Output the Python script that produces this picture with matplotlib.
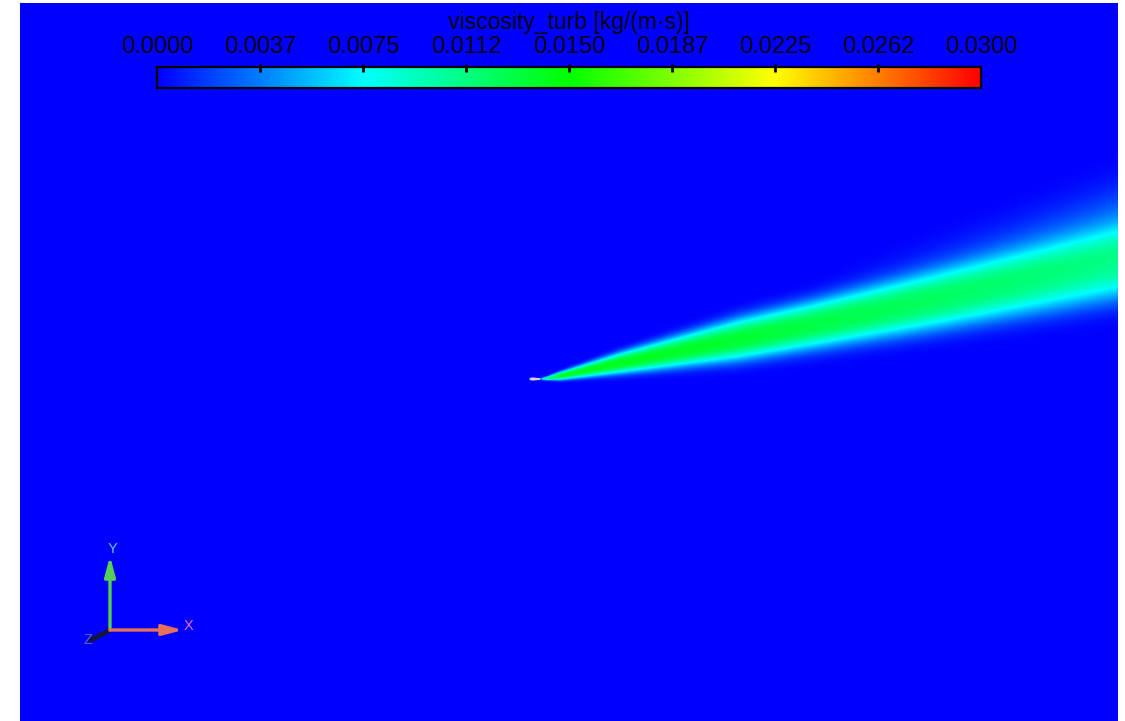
import numpy as np
import matplotlib
matplotlib.use("Agg")
import matplotlib.pyplot as plt
from matplotlib.colors import LinearSegmentedColormap

plt.rcParams["font.family"] = ["Liberation Sans", "DejaVu Sans"]

# wake stations read along the centreline (chord units, leading edge at x=0)
wake_x      = [1.0,   1.6,    3.0,    9.0,    21.0,   41.0,   58.8]
wake_yc     = [0.0,   0.05,   0.3,    1.6,    4.0,    7.9,    11.5]
wake_half   = [0.08,  0.15,   0.35,   0.9,    1.8,    2.5,    3.1]
wake_peak   = [0.004, 0.011,  0.0140, 0.0142, 0.0136, 0.0118, 0.0100]

# faint spreading layer on the upper side of the far wake
halo_x      = [28.0,  41.0,   58.8]
halo_amp    = [0.0,   0.0015, 0.0032]
halo_off    = [2.5,   3.2,    4.2]
halo_width  = [2.0,   2.6,    3.6]

# colour bar
vmin, vmax = 0.0, 0.03
cbar_ticks = [0.0, 0.00375, 0.0075, 0.01125, 0.015, 0.01875, 0.0225, 0.02625, 0.03]
cbar_labels = ["0.0000", "0.0037", "0.0075", "0.0112", "0.0150",
               "0.0187", "0.0225", "0.0262", "0.0300"]
field_name = "viscosity_turb [kg/(m\u00b7s)]"

# domain extents (chord units)
x_min, x_max = -51.0, 58.8
y_min, y_max = -34.2, 37.6

rainbow = LinearSegmentedColormap.from_list(
    "rainbow_bcgyr",
    [(0.0, (0, 0, 1)), (0.25, (0, 1, 1)), (0.5, (0, 1, 0)),
     (0.75, (1, 1, 0)), (1.0, (1, 0, 0))])

# build the nut field on a fine grid
xs = np.linspace(x_min, x_max, 2200)
ys = np.linspace(y_min, y_max, 1440)
X, Y = np.meshgrid(xs, ys)

yc = np.interp(xs, wake_x, wake_yc)
hw = np.interp(xs, wake_x, wake_half)
pk = np.interp(xs, wake_x, wake_peak, left=0.0)
eta = np.abs(Y - yc[None, :]) / hw[None, :]
nut = pk[None, :] * np.exp(-np.log(2) * eta ** 2.6)

ha = np.interp(xs, halo_x, halo_amp, left=0.0)
ho = np.interp(xs, halo_x, halo_off)
hwid = np.interp(xs, halo_x, halo_width)
nut += ha[None, :] * np.exp(-((Y - yc[None, :] - ho[None, :]) / hwid[None, :]) ** 2)

fig = plt.figure(figsize=(11.25, 7.21), dpi=100)
ax = fig.add_axes([20 / 1125, 0, 1098 / 1125, 718 / 721])
ax.imshow(nut, extent=[x_min, x_max, y_min, y_max], origin="lower",
          cmap=rainbow, vmin=vmin, vmax=vmax, aspect="auto",
          interpolation="bilinear")

# airfoil outline (symmetric 12% section)
t = np.linspace(0, np.pi, 60)
xc = 0.5 * (1 - np.cos(t))
yt = 5 * 0.12 * (0.2969 * np.sqrt(xc) - 0.126 * xc - 0.3516 * xc ** 2
                 + 0.2843 * xc ** 3 - 0.1015 * xc ** 4)
ax.fill(np.r_[xc, xc[::-1]], np.r_[yt, -yt[::-1]] * 1.6,
        color="#f0f0f0", ec="#d0d0e0", lw=0.8, zorder=3)

ax.set_xlim(x_min, x_max)
ax.set_ylim(y_min, y_max)
ax.set_axis_off()

# colour bar
cax = fig.add_axes([157 / 1125, 1 - 88 / 721, 824 / 1125, 21 / 721])
grad = np.linspace(vmin, vmax, 512)[None, :]
cax.imshow(grad, extent=[vmin, vmax, 0, 1], cmap=rainbow, vmin=vmin, vmax=vmax,
           aspect="auto")
cax.set_xlim(vmin, vmax)
cax.set_ylim(0, 1)
cax.set_xticks([])
cax.set_yticks([])
for s in cax.spines.values():
    s.set_linewidth(1.6)
    s.set_color("black")
for v in cbar_ticks[1:-1]:
    cax.plot([v, v], [1 + 3 / 21, 1 - 5 / 21], color="black", lw=2,
             clip_on=False, solid_capstyle="butt")
for v, lab in zip(cbar_ticks, cbar_labels):
    cax.text(v, 1 + 14 / 21, lab, ha="center", va="baseline",
             fontsize=17, color="#000010", clip_on=False)
cax.text(0.5, 1 + 38 / 21, field_name, transform=cax.transAxes,
         ha="center", va="baseline", fontsize=16.5, color="#000010")

# orientation triad, drawn in pixel space
tri = fig.add_axes([0, 0, 1, 1])
tri.set_xlim(0, 1125)
tri.set_ylim(721, 0)
tri.set_axis_off()
tri.patch.set_alpha(0)
o = (110, 630)
tri.plot([o[0], 91], [o[1], 640], color="#141440", lw=3.5, solid_capstyle="round")
tri.annotate("", xy=(o[0], 556), xytext=o,
             arrowprops=dict(arrowstyle="-|>,head_length=1.2,head_width=0.32",
                             color="#55d055", lw=2.4, shrinkA=0, shrinkB=0))
tri.annotate("", xy=(183, o[1]), xytext=o,
             arrowprops=dict(arrowstyle="-|>,head_length=1.2,head_width=0.32",
                             color="#e8705a", lw=2.4, shrinkA=0, shrinkB=0))
tri.text(113, 549, "Y", color="#60c8e0", fontsize=10.5, ha="center", va="center")
tri.text(189, 626, "X", color="#e070c0", fontsize=10.5, ha="center", va="center")
tri.text(88, 640, "Z", color="#6060c8", fontsize=10.5, ha="center", va="center")

fig.savefig("out.png", dpi=100)
